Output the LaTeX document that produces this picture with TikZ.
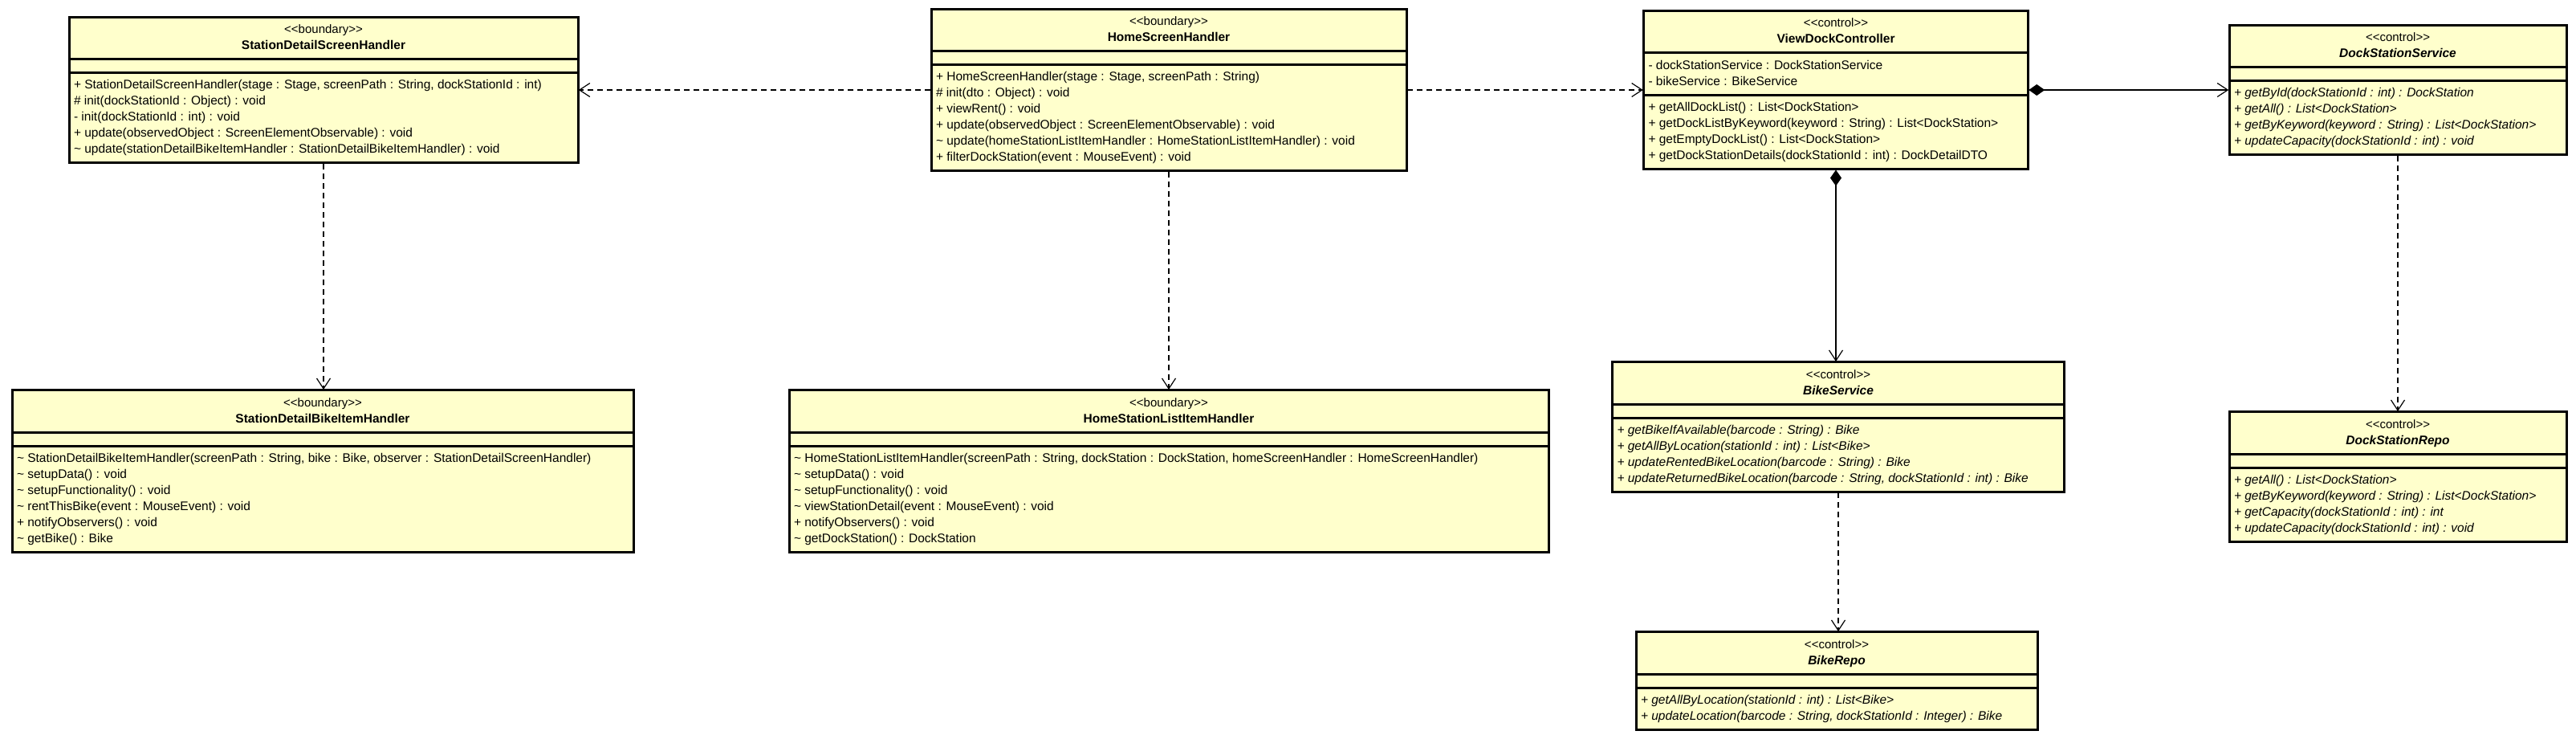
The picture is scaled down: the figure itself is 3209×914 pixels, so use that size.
\documentclass[tikz,border=0pt]{standalone}
\usepackage{fontspec}
\setmainfont{Liberation Sans}
\usetikzlibrary{shapes.multipart,arrows.meta}

\definecolor{classfill}{RGB}{255,255,204}

% class header and operation list
\newcommand{\toppad}{\rule{0pt}{14.5pt}}
\newcommand{\botpad}{\rule[-6.5pt]{0pt}{6.5pt}}
\newcommand{\head}[2]{\begin{tabular}{@{}c@{}}\toppad{\upshape\mdseries\fontsize{15}{20}\selectfont\textless\kern0pt\textless #1\textgreater\kern0pt\textgreater}\\\textbf{#2}\botpad\end{tabular}}
\newcommand{\ops}[1]{\begin{tabular}{@{}l@{}}\toppad#1\botpad\end{tabular}}
\newcommand{\pkg}{\textasciitilde\ }

\begin{document}
\begin{tikzpicture}[x=1pt,y=-1pt]

% definitions
\tikzstyle{umlclass} = [rectangle split, rectangle split parts=3, rectangle split part align={center,left,left}, rectangle split empty part height=0pt, rectangle split empty part depth=0pt, draw=black, line width=1.5pt, fill=classfill, inner xsep=6pt, inner ysep=5pt, font=\fontsize{15.5}{20}\selectfont, postaction={draw, line width=3pt}]

\tikzstyle{abstractclass} = [umlclass, font=\fontsize{15.5}{20}\selectfont\itshape]

\tikzstyle{dep} = [-{Straight Barb[length=13pt,width=17pt]}, line width=1.2pt, dash pattern=on 7pt off 5pt]

\tikzstyle{comp} = [{Diamond[length=20pt,width=14pt]}-{Straight Barb[length=13pt,width=17pt]}, line width=1.2pt]

\useasboundingbox (0,0) rectangle (3209,914);

% the graph
\node (sdsh) [umlclass, minimum width=634pt] at (403,112) {\head{boundary}{StationDetailScreenHandler}%
\nodepart{second}\nodepart{third}\ops{+ StationDetailScreenHandler(stage : Stage, screenPath : String, dockStationId : int)\\
\# init(dockStationId : Object) : void\\
- init(dockStationId : int) : void\\
+ update(observedObject : ScreenElementObservable) : void\\
\pkg update(stationDetailBikeItemHandler : StationDetailBikeItemHandler) : void}};

\node (hsh) [umlclass, minimum width=592pt] at (1456,112) {\head{boundary}{HomeScreenHandler}%
\nodepart{second}\nodepart{third}\ops{+ HomeScreenHandler(stage : Stage, screenPath : String)\\
\# init(dto : Object) : void\\
+ viewRent() : void\\
+ update(observedObject : ScreenElementObservable) : void\\
\pkg update(homeStationListItemHandler : HomeStationListItemHandler) : void\\
+ filterDockStation(event : MouseEvent) : void}};

\node (vdc) [umlclass, minimum width=479pt] at (2287,112) {\head{control}{ViewDockController}%
\nodepart{second}\ops{- dockStationService : DockStationService\\
- bikeService : BikeService}%
\nodepart{third}\ops{+ getAllDockList() : List<DockStation>\\
+ getDockListByKeyword(keyword : String) : List<DockStation>\\
+ getEmptyDockList() : List<DockStation>\\
+ getDockStationDetails(dockStationId : int) : DockDetailDTO}};

\node (dss) [abstractclass, minimum width=420pt] at (2987,112) {\head{control}{DockStationService}%
\nodepart{second}\nodepart{third}\ops{+ getById(dockStationId : int) : DockStation\\
+ getAll() : List<DockStation>\\
+ getByKeyword(keyword : String) : List<DockStation>\\
+ updateCapacity(dockStationId : int) : void}};

\node (sdbih) [umlclass, minimum width=774pt, anchor=north] at (402,485) {\head{boundary}{StationDetailBikeItemHandler}%
\nodepart{second}\nodepart{third}\ops{\pkg StationDetailBikeItemHandler(screenPath : String, bike : Bike, observer : StationDetailScreenHandler)\\
\pkg setupData() : void\\
\pkg setupFunctionality() : void\\
\pkg rentThisBike(event : MouseEvent) : void\\
+ notifyObservers() : void\\
\pkg getBike() : Bike}};

\node (hslih) [umlclass, minimum width=946pt, anchor=north] at (1456,485) {\head{boundary}{HomeStationListItemHandler}%
\nodepart{second}\nodepart{third}\ops{\pkg HomeStationListItemHandler(screenPath : String, dockStation : DockStation, homeScreenHandler : HomeScreenHandler)\\
\pkg setupData() : void\\
\pkg setupFunctionality() : void\\
\pkg viewStationDetail(event : MouseEvent) : void\\
+ notifyObservers() : void\\
\pkg getDockStation() : DockStation}};

\node (bs) [abstractclass, minimum width=563pt, anchor=north] at (2290,450) {\head{control}{BikeService}%
\nodepart{second}\nodepart{third}\ops{+ getBikeIfAvailable(barcode : String) : Bike\\
+ getAllByLocation(stationId : int) : List<Bike>\\
+ updateRentedBikeLocation(barcode : String) : Bike\\
+ updateReturnedBikeLocation(barcode : String, dockStationId : int) : Bike}};

\node (dsr) [abstractclass, minimum width=420pt, anchor=north] at (2987,512) {\head{control}{DockStationRepo}%
\nodepart{second}\nodepart{third}\ops{+ getAll() : List<DockStation>\\
+ getByKeyword(keyword : String) : List<DockStation>\\
+ getCapacity(dockStationId : int) : int\\
+ updateCapacity(dockStationId : int) : void}};

\node (br) [abstractclass, minimum width=500pt, anchor=north] at (2288,786) {\head{control}{BikeRepo}%
\nodepart{second}\nodepart{third}\ops{+ getAllByLocation(stationId : int) : List<Bike>\\
+ updateLocation(barcode : String, dockStationId : Integer) : Bike}};


\draw [dep] (hsh.west) -- (sdsh.east);
\draw [dep] (hsh.east) -- (vdc.west);
\draw [comp] (vdc.east) -- (dss.west);
\draw [comp] (vdc.south) -- (vdc.south |- bs.north);
\draw [dep] (sdsh.south) -- (sdsh.south |- sdbih.north);
\draw [dep] (hsh.south) -- (hsh.south |- hslih.north);
\draw [dep] (dss.south) -- (dss.south |- dsr.north);
\draw [dep] (bs.south) -- (bs.south |- br.north);

\end{tikzpicture}
\end{document}
